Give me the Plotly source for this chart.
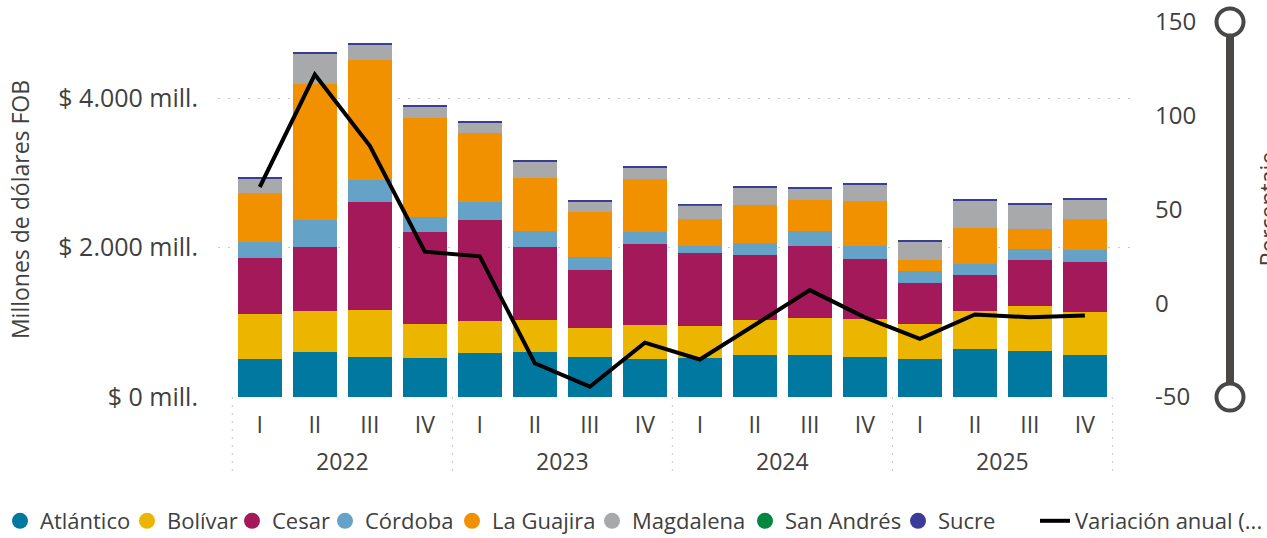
import plotly.graph_objects as go

# ---------- datos ----------
anios = ["2022", "2023", "2024", "2025"]
trimestres = ["I", "II", "III", "IV"]

atlantico = [504, 598, 531, 517, 584, 598, 531, 504, 517, 557, 557, 531, 504, 638, 611, 557]
bolivar = [602, 548, 629, 455, 428, 428, 388, 455, 429, 469, 496, 508, 468, 508, 602, 576]
cesar = [749, 857, 1445, 1231, 1352, 977, 776, 1084, 976, 870, 963, 803, 549, 482, 616, 669]
cordoba = [223, 365, 298, 201, 241, 214, 174, 160, 103, 160, 201, 174, 160, 147, 147, 160]
la_guajira = [647, 1820, 1615, 1329, 923, 713, 602, 709, 352, 509, 419, 602, 148, 482, 267, 415]
magdalena = [205, 415, 205, 161, 152, 228, 151, 165, 188, 245, 160, 232, 258, 379, 339, 272]
san_andres = [0, 0, 0, 0, 0, 0, 0, 0, 12, 0, 0, 0, 0, 0, 0, 0]
sucre = [10, 12, 10, 8, 8, 8, 8, 8, 4, 8, 8, 8, 8, 8, 8, 8]

variacion = [62, 122, 84, 27.5, 25, -32, -44.5, -21, -30, -11.5, 7, -7.5, -19, -6, -7.5, -6.5]

ticks_pct = [-50, 0, 50, 100, 150]
ticks_pct_txt = ["-50", "0", "50", "100", "150"]

departamentos = ["Atlántico", "Bolívar", "Cesar", "Córdoba", "La Guajira", "Magdalena", "San Andrés", "Sucre"]
colores = ["#01789F", "#EBB500", "#A4195A", "#64A2C8", "#F29100", "#A8A9AA", "#00893E", "#3A3D98"]
series = [atlantico, bolivar, cesar, cordoba, la_guajira, magdalena, san_andres, sucre]

# categorías únicas año-trimestre; el eje muestra el trimestre y un segundo eje el año
categorias = [f"{a} {t}" for a in anios for t in trimestres]
x_trim = [t for _ in anios for t in trimestres]
n_trim = len(trimestres)
centros_anio = [i * n_trim + (n_trim - 1) / 2 for i in range(len(anios))]
limites_anio = [i * n_trim - 0.5 for i in range(len(anios) + 1)]

FUENTE = "Open Sans, sans-serif"
GRIS = "#404040"
W, H = 1267, 538
L, R, T, B = 218, 137, 22, 141
ANCHO_PLOT = W - L - R
ALTO_PLOT = H - T - B
RANGO_X = [-0.76, 15.82]

# inicio del texto de cada entrada de la leyenda (px)
leyenda_px = [37, 167, 272, 365, 492, 632, 785, 938, 1075]

fig = go.Figure()

for nombre, color, valores in zip(departamentos, colores, series):
    fig.add_trace(go.Bar(x=categorias, y=valores, name=nombre, marker_color=color,
                         marker_line_width=0, showlegend=False))

# entradas de leyenda con círculo, una leyenda por entrada
for i, (nombre, color) in enumerate(zip(departamentos, colores)):
    fig.add_trace(go.Scatter(x=[None], y=[None], mode="markers", name=nombre,
                             legend="legend" if i == 0 else f"legend{i + 1}",
                             marker=dict(symbol="circle", size=18, color=color)))

fig.add_trace(go.Scatter(x=categorias, y=variacion, name="Variación anual (...", mode="lines",
                         legend="legend9", line=dict(color="black", width=4), yaxis="y2"))

# eje auxiliar para los años
fig.add_trace(go.Scatter(x=centros_anio, y=[None] * len(anios), xaxis="x2", showlegend=False,
                         hoverinfo="skip"))

# separadores punteados entre años bajo el eje
for xl in limites_anio:
    fig.add_shape(type="line", xref="x", yref="paper", x0=xl, x1=xl, y0=0, y1=-(475 - 397) / ALTO_PLOT,
                  line=dict(color="#c8c8c8", width=1, dash="2px,6px"))

# slider vertical a la derecha
xs = (1230 - L) / ANCHO_PLOT
fig.add_shape(type="line", xref="paper", yref="paper", x0=xs, x1=xs, y0=0, y1=1,
              line=dict(color="#4a4846", width=8))
for ya in [1, 0]:
    fig.add_shape(type="circle", xref="paper", yref="paper", xsizemode="pixel", ysizemode="pixel",
                  xanchor=xs, yanchor=ya, x0=-13.5, x1=13.5, y0=-13.5, y1=13.5,
                  fillcolor="white", line=dict(color="#4a4846", width=4))

# título del eje derecho (queda cortado en el borde, como en el original)
fig.add_annotation(text="Porcentaje", xref="paper", yref="paper", x=(1267 - L) / ANCHO_PLOT, y=0.5,
                   xanchor="center", yanchor="middle", textangle=-90, showarrow=False,
                   font=dict(size=23, color=GRIS))

leyendas = {}
for i, px in enumerate(leyenda_px):
    clave = "legend" if i == 0 else f"legend{i + 1}"
    leyendas[clave] = dict(orientation="h", xref="container", yref="container",
                           x=(px - 40) / W, y=1 - 521 / H, xanchor="left", yanchor="middle",
                           font=dict(size=22, color=GRIS), itemwidth=30,
                           bgcolor="rgba(0,0,0,0)", borderwidth=0)

fig.update_layout(
    barmode="stack",
    bargap=0.2,
    width=W, height=H,
    margin=dict(l=L, r=R, t=T, b=B, autoexpand=False),
    plot_bgcolor="white", paper_bgcolor="white",
    separators=",.",
    font=dict(family=FUENTE, color=GRIS, size=22),
    xaxis=dict(type="category", range=RANGO_X, showgrid=False, ticks="",
               tickvals=categorias, ticktext=x_trim, ticklabelstandoff=12, automargin=False,
               tickfont=dict(size=23, color=GRIS), zeroline=False, showline=False),
    xaxis2=dict(overlaying="x", side="bottom", anchor="y", range=RANGO_X, showgrid=False,
                tickvals=centros_anio, ticktext=anios, ticks="", ticklabelstandoff=49,
                automargin=False, zeroline=False, showline=False,
                tickfont=dict(size=23, color=GRIS)),
    yaxis=dict(range=[0, 5020], dtick=2000, tickformat=",.0f", tickprefix="$ ", ticksuffix=" mill.",
               showgrid=True, gridcolor="#c8c8c8", griddash="2px,8px", gridwidth=1, zeroline=False,
               tickfont=dict(size=25, color=GRIS), ticklabelstandoff=19, automargin=False,
               title=dict(text="Millones de dólares FOB", font=dict(size=23, color=GRIS), standoff=22)),
    yaxis2=dict(overlaying="y", side="right", range=[-50, 150], tickvals=ticks_pct,
                ticktext=ticks_pct_txt, showgrid=False,
                zeroline=False, tickfont=dict(size=24, color=GRIS), ticklabelstandoff=24,
                automargin=False),
    **leyendas,
)

fig.write_html("out.html", config={"displayModeBar": False},
               post_script="document.body.style.margin='0';")
